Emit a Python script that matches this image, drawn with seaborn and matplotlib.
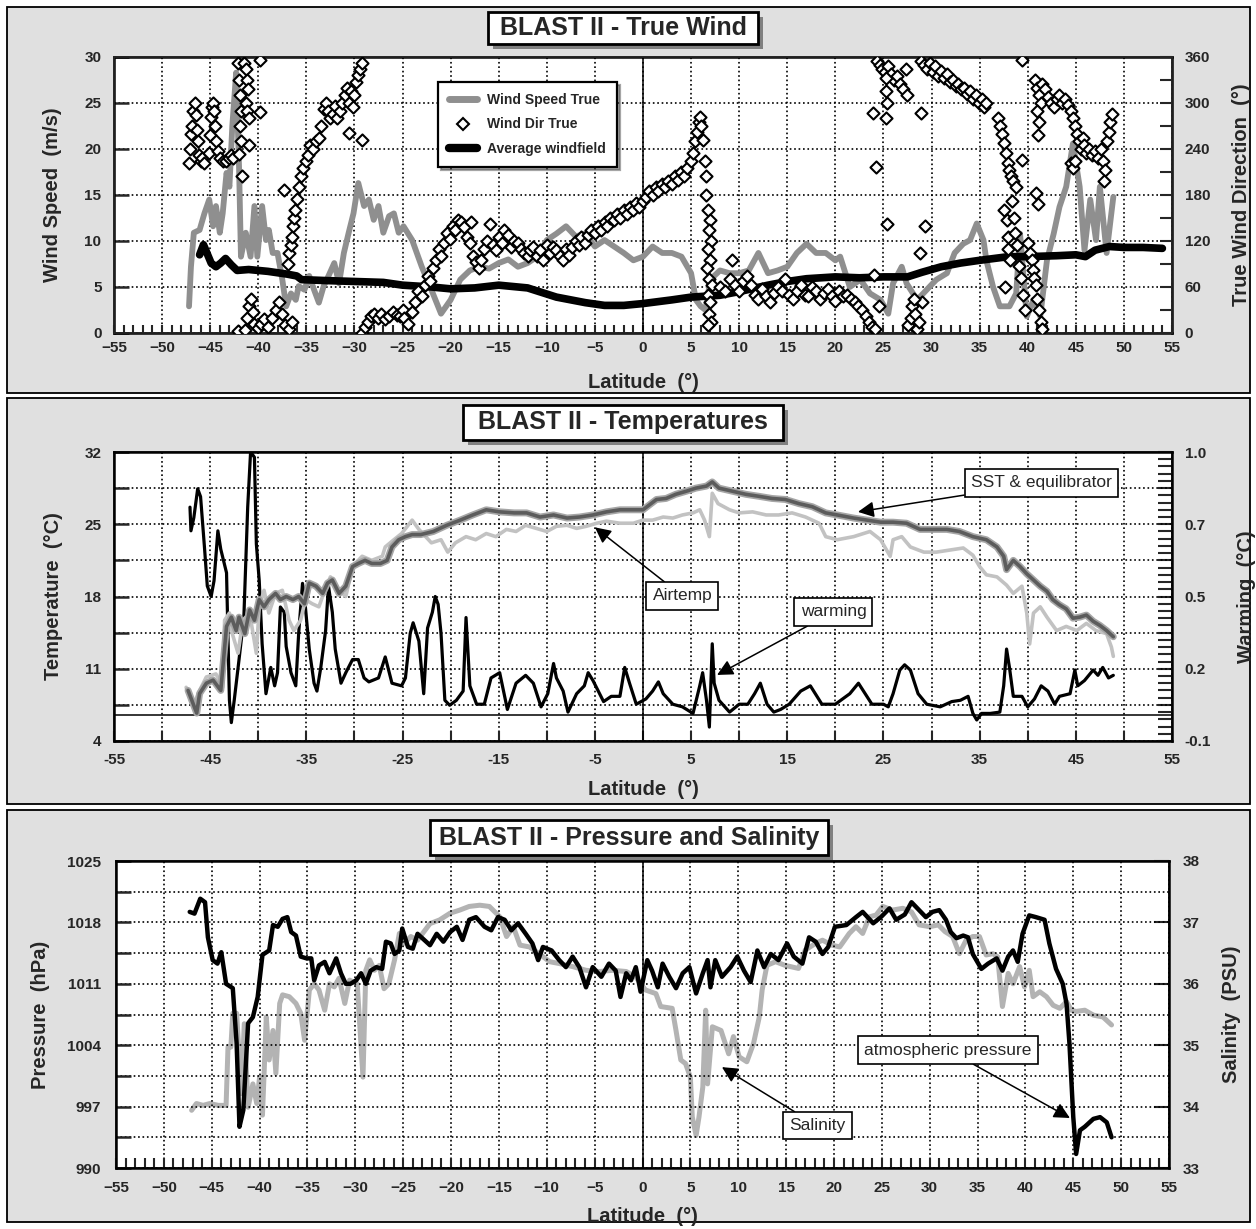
import matplotlib
matplotlib.use("Agg")
import matplotlib.pyplot as plt
from matplotlib.patches import Rectangle
from matplotlib.lines import Line2D
from matplotlib.ticker import FixedLocator
import seaborn as sns

W, H = 1256, 1229

# ---------------- panel 1 : true wind ----------------
wind_lat = [-47.2, -47.0, -46.7, -46.1, -45.6, -45.1, -44.7, -44.4, -44.0, -43.7, -43.3, -43.0, -42.7, -42.3,
            -42.0, -41.8, -41.3, -40.8, -40.4, -40.1, -39.6, -39.2, -38.9, -38.5, -38.0, -37.5, -37.1, -36.6,
            -36.1, -35.8, -35.2, -34.7, -34.2, -33.7, -33.2, -32.7, -32.1, -31.6, -31.1, -30.6, -30.1, -29.6,
            -29.0, -28.5, -28.0, -27.5, -27.0, -26.4, -25.9, -25.4, -24.9, -24.0, -23.0, -22.0, -21.0, -20.0,
            -19.0, -18.0, -17.0, -16.0, -15.0, -14.0, -13.0, -12.0, -11.0, -10.0, -9.0, -8.0, -7.0, -6.0, -5.0,
            -4.0, -3.0, -2.0, -1.0, 0.0, 1.0, 2.0, 3.0, 4.0, 5.0, 5.5, 6.0, 6.5, 7.0, 8.0, 9.0, 10.0, 11.0, 12.0,
            13.0, 14.0, 15.0, 16.0, 17.0, 18.0, 19.0, 20.0, 20.5, 21.5, 22.6, 23.6, 24.7, 25.5, 26.0, 26.9, 27.4,
            28.5, 29.5, 30.5, 31.6, 32.4, 33.3, 34.0, 34.7, 35.4, 35.7, 36.4, 37.1, 38.1, 38.8, 39.2, 39.9, 40.6,
            41.3, 42.0, 42.7, 43.3, 44.0, 44.7, 45.4, 45.9, 46.5, 47.1, 47.5, 48.2, 48.9]
wind_speed = [2.9, 7.2, 10.9, 11.2, 13.0, 14.5, 11.6, 13.8, 10.9, 13.0, 17.4, 15.9, 22.5, 28.3,
              18.1, 8.3, 10.9, 8.3, 13.8, 8.3, 13.8, 10.1, 11.2, 8.7, 8.7, 5.8, 2.9, 4.3,
              3.6, 5.1, 4.7, 6.2, 4.7, 3.3, 5.1, 6.2, 7.6, 5.4, 8.7, 10.9, 13.0, 16.3,
              13.8, 14.5, 12.3, 13.8, 10.9, 12.7, 13.0, 10.9, 11.6, 10.1, 7.2, 4.7, 2.1, 3.6,
              5.8, 6.8, 7.2, 7.0, 7.6, 8.0, 7.2, 7.6, 8.3, 10.1, 10.8, 11.6, 10.5, 10.8, 9.4,
              10.1, 9.4, 8.7, 7.9, 8.3, 9.4, 8.7, 8.7, 8.3, 6.5, 3.6, 2.9, 2.5, 5.8, 6.8, 6.5, 6.5, 6.8, 8.7,
              6.5, 6.8, 7.2, 8.7, 9.7, 8.7, 8.7, 7.9, 8.3, 5.0, 5.8, 4.3, 3.6, 2.1, 5.4, 7.2, 5.4,
              3.6, 4.7, 5.8, 6.5, 8.7, 9.7, 10.1, 11.9, 10.1, 7.9, 5.0, 2.9, 2.9, 4.3, 10.8, 1.8, 3.6,
              1.8, 7.9, 10.8, 13.7, 15.9, 20.6, 15.9, 9.0, 14.5, 10.1, 15.9, 8.7, 14.8]

dir_lat = [-47.2, -47.1, -47.0, -46.9, -46.8, -46.6, -46.5, -46.4, -46.3, -46.2, -46.0, -45.8, -45.6,
           -45.1, -45.0, -44.9, -44.8, -44.7, -44.6, -44.5, -44.4, -44.2, -44.0, -43.7, -43.4, -43.0, -42.8, -42.6,
           -42.1, -42.0, -41.9, -41.8, -41.9, -41.8, -42.0, -41.7, -41.5, -41.3, -41.2, -41.1, -41.3, -41.2,
           -41.0, -41.0, -39.8, -39.8,
           -42.1, -41.4, -41.2, -41.0, -40.8, -40.6, -40.4, -40.0, -39.7, -39.4, -39.0, -38.6, -38.2, -37.8,
           -37.5, -37.2, -36.8, -36.5,
           -37.3, -36.9, -36.8, -36.6, -36.5, -36.4, -36.3, -36.2, -36.0, -35.8, -35.6, -35.3, -35.0, -34.8,
           -34.6, -34.3, -34.0, -33.7, -33.5, -33.2, -33.0, -32.7, -32.5, -32.2, -32.0, -31.8, -31.5, -31.3,
           -31.0, -30.8, -30.6, -30.4, -30.2, -30.0, -29.8, -29.6, -29.4, -29.2, -30.6, -29.2,
           -29.2, -28.9, -28.6, -28.3, -28.0, -27.6, -27.2, -26.8, -26.4, -26.0, -25.6, -25.3, -25.0,
           -24.8, -24.4, -24.0, -23.7, -23.4, -23.0, -22.7, -22.4, -22.1, -21.8, -21.5, -21.2, -21.0, -20.7,
           -20.4, -20.1, -19.8, -19.5, -19.2, -18.9, -18.6, -18.3, -18.0, -17.9, -17.7, -17.4, -17.1, -16.8,
           -16.5, -16.2, -15.9, -15.6, -15.3, -15.0, -14.7, -14.4, -14.0, -13.7, -13.4, -13.0, -12.7, -12.4,
           -12.0, -11.7, -11.4, -11.0, -10.7, -10.4, -10.0, -9.7, -9.4, -9.0, -8.6, -8.3, -8.0, -7.7, -7.4,
           -7.0, -6.7, -6.4, -6.0, -5.7, -5.4, -5.0, -4.7, -4.4, -4.0, -3.7, -3.4, -3.0, -2.7, -2.4, -2.0,
           -1.7, -1.4, -1.0, -0.7, -0.4, 0.0, 0.3, 0.6, 1.0, 1.3, 1.6, 2.0, 2.3, 2.6, 3.0, 3.3, 3.6, 4.0,
           4.3, 4.6, 5.0, 5.2, 5.4, 5.6, 5.8, 5.9, 6.0, 6.2, 6.4, 6.6, 6.5, 6.8, 7.0, 6.9, 7.1, 6.8, 7.0,
           6.7, 6.9, 7.2, 6.8, 7.0, 6.9, 7.1, 6.8,
           8.0, 8.5, 9.0, 9.3, 9.6, 10.0, 10.4, 10.8, 11.2, 11.6, 12.0, 12.4, 12.8, 13.2, 13.6, 14.0, 14.4,
           14.8, 15.2, 15.6, 16.0, 16.4, 16.8, 17.2, 17.6, 18.0, 18.4, 18.8, 19.2, 19.6, 20.0, 20.4, 20.8,
           21.2, 21.6, 22.0, 22.4, 22.8, 23.2, 23.5, 23.8, 24.1, 24.0, 24.5,
           24.3, 24.6, 24.9, 25.2, 25.5, 25.8, 26.1, 26.4, 26.7, 27.0, 27.3, 27.4, 25.3, 25.3, 25.4, 25.3,
           25.4, 23.9, 24.2,
           27.6, 27.9, 28.0, 28.3, 28.5, 28.7, 29.0, 28.2, 28.8, 29.3, 28.9,
           28.9, 29.2, 29.5, 29.8, 30.1, 30.4, 30.7, 31.0, 31.3, 31.6, 31.9, 32.2, 32.5, 32.8, 33.1, 33.4,
           33.7, 34.0, 34.3, 34.6, 34.9, 35.2, 35.5, 35.7,
           36.9, 37.1, 37.3, 37.5, 37.7, 37.9, 38.1, 38.3, 38.5, 38.8, 39.4,
           37.5, 37.8, 37.9, 38.0, 38.2, 38.4, 38.6, 38.7, 38.9, 39.1, 39.3, 39.5, 39.7, 37.6, 39.4,
           40.0, 40.2, 40.4, 40.5, 40.7, 40.9, 41.0, 41.2, 41.4, 41.5, 40.9, 41.1,
           40.8, 41.0, 41.2, 41.4, 41.0, 41.1, 41.2, 41.5, 41.8, 42.1, 42.4, 42.7, 43.0, 43.3, 43.6, 43.9,
           44.2, 44.5, 44.7, 44.9, 45.1, 45.3, 45.5, 45.7, 45.9, 46.1, 46.4, 46.7, 47.0, 47.3, 47.6, 47.8,
           48.0, 47.9, 48.2, 48.4, 48.6, 48.8, 44.5, 44.7, 44.9]
dir_deg = [222, 240, 260, 270, 290, 300, 284, 265, 250, 232, 225, 228, 222,
           235, 258, 282, 295, 300, 290, 270, 250, 238, 228, 224, 224, 228, 232, 228,
           352, 330, 310, 290, 270, 250, 233, 205, 352, 345, 330, 318, 300, 290,
           280, 245, 356, 288,
           2, 4, 20, 35, 45, 28, 12, 6, 12, 18, 8, 20, 30, 40,
           25, 10, 5, 15,
           186, 90, 105, 115, 125, 140, 150, 160, 175, 190, 205, 215, 225, 232,
           245, 240, 250, 255, 270, 292, 300, 290, 280, 285, 296, 280, 290, 300,
           310, 320, 300, 315, 295, 310, 328, 336, 345, 352, 261, 252,
           0, 8, 15, 22, 25, 20, 25, 18, 22, 28, 24, 22, 30,
           20, 12, 28, 40, 55, 48, 62, 75, 68, 85, 95, 110, 100, 118,
           130, 122, 140, 135, 148, 145, 138, 125, 118, 145, 100, 92, 85, 95,
           110, 120, 142, 115, 108, 125, 118, 135, 128, 112, 120, 118, 110, 105,
           100, 108, 112, 100, 108, 95, 115, 105, 112, 108, 100, 95, 110, 102, 112,
           120, 115, 125, 118, 128, 135, 130, 140, 134, 145, 140, 150, 148, 155, 150, 160,
           155, 165, 160, 170, 165, 172, 178, 185, 180, 190, 185, 195, 190, 198, 195, 205, 200, 210,
           205, 215, 225, 235, 250, 262, 275, 282, 270, 252, 225, 205, 180, 160, 148, 135, 120, 110, 95,
           85, 70, 62, 50, 40, 25, 15, 10,
           60, 55, 70, 95, 62, 55, 68, 75, 62, 50, 45, 58, 48, 40, 52, 60, 55,
           70, 50, 45, 55, 62, 50, 48, 60, 55, 45, 52, 58, 48, 42, 55, 48,
           50, 45, 40, 35, 30, 22, 15, 8, 5, 76, 35,
           355, 350, 345, 340, 348, 338, 330, 335, 325, 318, 345, 310, 332, 315, 300, 280,
           142, 287, 217,
           10, 20, 35, 25, 5, 15, 40, 45, 105, 140, 287,
           355, 350, 345, 352, 340, 348, 335, 342, 332, 338, 328, 330, 322, 325, 318, 320,
           312, 315, 305, 310, 300, 305, 295, 300,
           280, 270, 260, 248, 235, 222, 212, 205, 198, 190, 226,
           160, 148, 125, 110, 95, 172, 150, 130, 115, 88, 72, 50, 30, 60, 356,
           118, 105, 95, 82, 72, 62, 45, 30, 15, 5, 182, 168,
           330, 320, 310, 300, 290, 258, 275, 325, 318, 308, 300, 295, 305, 310, 300, 305,
           298, 290, 280, 270, 260, 250, 240, 255, 245, 235, 240, 232, 238, 228, 240, 225,
           212, 198, 250, 262, 275, 285, 222, 215, 225]

avg_lat = [-46.1, -45.7, -45.3, -44.9, -44.4, -43.9, -43.4, -42.8, -42.2, -41.0, -39.0, -37.0, -36.0,
           -35.5, -33.0, -30.0, -27.0, -25.0, -22.0, -20.0, -17.5, -15.0, -12.0, -9.0, -6.0, -4.0, -2.0,
           0.0, 3.0, 5.0, 8.0, 10.0, 13.0, 15.0, 17.0, 20.0, 22.5, 25.0, 27.5, 29.0, 31.0, 33.0, 35.0,
           38.0, 40.0, 43.0, 45.0, 46.0, 47.0, 48.5, 50.0, 52.0, 54.0]
avg_speed = [8.5, 9.6, 8.6, 7.6, 7.2, 7.6, 8.1, 7.4, 6.8, 6.9, 6.7, 6.4, 6.2,
             5.8, 5.7, 5.6, 5.5, 5.2, 5.0, 4.8, 4.9, 5.2, 4.9, 3.9, 3.3, 3.0, 3.0,
             3.2, 3.6, 3.9, 4.1, 4.5, 5.2, 5.6, 5.9, 6.1, 6.0, 6.1, 6.1, 6.6, 7.2, 7.6, 7.9,
             8.3, 8.3, 8.4, 8.5, 8.3, 9.0, 9.4, 9.3, 9.3, 9.2]

# ---------------- panel 2 : temperatures ----------------
warm_lat = [-47.1, -47.0, -46.7, -46.3, -46.0, -45.6, -45.3, -44.9, -44.6, -44.2, -43.9, -43.3, -43.0, -42.8,
            -42.5, -42.0, -41.5, -41.1, -40.8, -40.4, -40.2, -39.9, -39.6, -39.2, -38.7, -38.3, -38.0, -37.7,
            -37.3, -37.1, -36.6, -36.1, -35.8, -35.4, -35.1, -34.7, -34.2, -33.9, -33.5, -33.0, -32.7, -32.3,
            -32.0, -31.4, -30.9, -30.2, -29.6, -29.0, -28.5, -27.5, -26.8, -26.1, -25.1, -24.7, -24.2, -23.9,
            -23.3, -22.8, -22.4, -21.9, -21.6, -21.3, -21.0, -20.6, -20.1, -19.4, -18.7, -18.4, -18.0, -17.3,
            -16.5, -15.8, -14.9, -14.1, -13.2, -12.2, -11.4, -10.6, -9.9, -9.3, -9.0, -8.3, -7.8, -6.9, -6.1,
            -5.7, -5.2, -4.1, -3.3, -2.4, -1.9, -1.4, -0.7, 0.3, 1.0, 1.6, 2.1, 3.1, 4.1, 5.2, 5.9, 6.2, 6.6,
            6.9, 7.2, 7.4, 7.9, 9.0, 10.0, 10.9, 11.6, 12.2, 12.9, 13.6, 14.3, 15.2, 16.4, 17.4, 18.6, 20.0,
            21.5, 22.4, 23.1, 23.8, 25.0, 25.5, 26.0, 26.7, 27.2, 27.8, 28.6, 29.5, 30.9, 32.1, 33.0, 33.8,
            34.3, 34.7, 35.2, 36.1, 37.1, 37.5, 37.8, 38.1, 38.5, 39.4, 40.0, 40.7, 41.4, 42.1, 42.8, 43.3,
            44.4, 44.9, 45.2, 45.9, 46.8, 47.3, 47.8, 48.4, 48.9]
warm_val = [0.79, 0.70, 0.75, 0.86, 0.83, 0.64, 0.49, 0.45, 0.51, 0.70, 0.63, 0.54, 0.055, -0.03,
            0.055, 0.21, 0.37, 0.79, 1.0, 0.98, 0.65, 0.51, 0.27, 0.08, 0.18, 0.11, 0.16, 0.41,
            0.39, 0.26, 0.16, 0.11, 0.31, 0.50, 0.41, 0.25, 0.12, 0.09, 0.18, 0.32, 0.49, 0.39,
            0.25, 0.12, 0.16, 0.21, 0.21, 0.14, 0.125, 0.14, 0.22, 0.12, 0.11, 0.14, 0.31, 0.35,
            0.28, 0.08, 0.33, 0.39, 0.45, 0.42, 0.31, 0.055, 0.036, 0.055, 0.09, 0.37, 0.11, 0.04,
            0.04, 0.14, 0.16, 0.02, 0.12, 0.15, 0.12, 0.03, 0.08, 0.195, 0.14, 0.09, 0.01, 0.08, 0.11,
            0.16, 0.13, 0.05, 0.07, 0.07, 0.18, 0.12, 0.04, 0.06, 0.09, 0.125, 0.08, 0.04, 0.03, 0.005, 0.11, 0.16, 0.055,
            -0.047, 0.27, 0.12, 0.055, 0.01, 0.04, 0.04, 0.08, 0.12, 0.04, 0.01, 0.02, 0.04, 0.09, 0.11, 0.04, 0.04,
            0.08, 0.12, 0.08, 0.04, 0.04, 0.03, 0.08, 0.17, 0.19, 0.17, 0.08, 0.04, 0.03, 0.05, 0.055, 0.07,
            0.005, -0.02, 0.005, 0.005, 0.01, 0.11, 0.25, 0.18, 0.07, 0.07, 0.03, 0.06, 0.11, 0.09, 0.04, 0.07,
            0.08, 0.17, 0.11, 0.13, 0.17, 0.15, 0.18, 0.14, 0.15]

sst_lat = [-47.3, -46.4, -46.1, -45.4, -44.7, -43.9, -43.3, -42.8, -42.3, -42.0, -41.4, -40.9, -40.4, -39.9,
           -39.4, -38.9, -38.2, -37.7, -37.1, -36.4, -35.8, -35.2, -34.7, -34.0, -33.3, -32.8, -32.3, -31.6,
           -30.9, -30.2, -29.6, -28.9, -28.2, -27.3, -26.6, -26.1, -25.4, -24.7, -24.0, -23.1, -21.8, -20.4,
           -19.0, -17.7, -16.3, -14.9, -13.4, -12.1, -10.7, -9.3, -7.9, -6.6, -5.2, -3.8, -2.4, -1.0, 0.0,
           0.7, 1.4, 2.4, 3.4, 4.5, 5.5, 6.6, 7.2, 7.9, 9.3, 10.7, 12.1, 13.4, 14.8, 16.2, 17.6, 19.0, 20.2,
           21.9, 23.3, 24.7, 26.0, 27.4, 28.8, 30.2, 31.6, 32.9, 34.3, 35.7, 36.8, 37.5, 37.8, 38.5, 39.2,
           39.9, 40.6, 41.3, 42.0, 42.6, 43.3, 44.0, 44.7, 45.4, 46.1, 46.8, 47.5, 48.2, 48.9]
sst_temp = [8.9, 6.7, 8.6, 9.6, 9.9, 8.9, 15.1, 16.0, 14.7, 16.0, 14.4, 16.7, 15.7, 17.7,
            17.0, 17.7, 18.3, 17.7, 18.0, 17.7, 18.0, 17.3, 19.3, 19.0, 18.3, 19.3, 19.6, 18.3,
            19.0, 20.9, 21.2, 21.5, 21.2, 21.2, 21.5, 22.8, 23.5, 23.8, 24.0, 24.0, 24.3, 24.9,
            25.4, 25.9, 26.4, 26.2, 26.1, 26.1, 25.7, 25.9, 25.6, 25.7, 25.9, 26.2, 26.4, 26.4, 26.4,
            26.9, 27.4, 27.5, 27.9, 28.2, 28.5, 28.7, 29.1, 28.5, 28.2, 27.9, 27.7, 27.5, 27.4, 27.0, 26.7, 26.1, 25.9,
            25.6, 25.4, 25.2, 25.2, 25.1, 24.5, 24.5, 24.5, 24.3, 23.8, 23.5, 22.8, 21.9, 20.6, 21.5, 20.9,
            20.2, 19.6, 19.0, 18.5, 17.7, 17.2, 16.8, 15.9, 16.0, 16.2, 15.6, 15.2, 14.7, 14.1]

air_lat = [-47.5, -46.8, -46.1, -45.4, -44.4, -43.7, -43.5, -43.0, -42.7, -42.1, -41.6, -40.9, -40.2, -39.9,
           -39.4, -38.9, -38.2, -37.5, -36.8, -36.3, -35.6, -35.1, -34.4, -33.7, -33.2, -32.5, -31.6, -30.9,
           -30.2, -29.2, -28.2, -27.1, -26.8, -25.9, -25.1, -24.0, -23.3, -22.0, -21.0, -20.3, -19.5, -18.4,
           -17.4, -16.3, -15.3, -14.2, -13.2, -12.2, -11.1, -10.0, -9.0, -7.9, -6.9, -5.9, -4.8, -3.8, -2.4,
           -1.0, 0.0, 1.0, 2.1, 3.1, 4.1, 5.2, 5.9, 6.4, 6.9, 7.2, 7.8, 9.0, 10.0, 11.4, 12.8, 14.1, 15.5,
           16.9, 18.3, 19.0, 20.2, 21.9, 23.6, 24.7, 25.7, 26.0, 26.9, 27.8, 29.2, 30.5, 31.9, 33.3, 34.3,
           35.0, 35.7, 36.8, 37.8, 38.5, 39.4, 39.9, 40.2, 40.6, 41.3, 42.0, 43.0, 44.0, 45.1, 46.1, 47.1,
           48.2, 48.7, 48.9]
air_temp = [9.2, 7.3, 8.9, 10.2, 10.5, 9.2, 15.7, 16.4, 14.4, 12.5, 15.7, 16.4, 12.5, 17.0,
            18.6, 16.4, 18.3, 18.6, 15.7, 14.7, 15.7, 17.7, 17.3, 17.0, 18.3, 19.9, 18.6, 18.0,
            20.9, 21.9, 21.5, 21.9, 22.8, 23.5, 24.1, 25.4, 24.5, 23.2, 23.5, 22.3, 23.2, 23.8,
            23.5, 24.1, 23.8, 24.5, 24.3, 24.9, 24.6, 24.3, 24.8, 24.9, 24.6, 24.8, 25.1, 25.3, 25.1,
            25.1, 25.4, 25.4, 25.7, 25.6, 25.9, 26.1, 26.4, 25.4, 23.8, 28.0, 27.0, 26.4, 26.1, 26.2, 25.9, 25.9, 26.1,
            25.7, 25.1, 23.8, 23.5, 23.8, 24.3, 23.5, 21.9, 23.5, 23.8, 22.8, 22.3, 22.3, 22.5, 22.7, 22.0,
            20.9, 20.1, 19.9, 19.1, 18.3, 19.0, 16.4, 13.4, 16.4, 17.0, 16.0, 14.7, 15.1, 14.7, 15.4, 14.7,
            14.4, 13.1, 12.2]

# ---------------- panel 3 : pressure and salinity ----------------
pres_lat = [-47.3, -46.8, -46.2, -45.7, -45.4, -44.9, -44.4, -44.0, -43.5, -42.8, -42.4, -42.1, -41.7, -41.2,
            -40.7, -40.2, -39.7, -39.0, -38.6, -38.1, -37.6, -37.1, -36.7, -36.2, -35.7, -35.1, -34.6, -34.3,
            -33.8, -33.2, -32.7, -32.0, -31.5, -31.0, -30.5, -29.9, -29.4, -28.9, -28.4, -27.8, -27.2, -26.8,
            -26.3, -25.9, -25.4, -25.1, -24.5, -24.0, -23.5, -22.2, -21.5, -20.8, -20.1, -19.4, -18.8, -18.1,
            -17.4, -16.5, -15.8, -15.1, -14.4, -13.7, -13.0, -12.2, -11.5, -10.9, -10.4, -9.5, -8.7, -8.0,
            -7.3, -6.6, -5.9, -5.2, -4.3, -3.5, -2.8, -2.3, -1.7, -1.2, -0.7, -0.2, 0.5, 1.0, 1.6, 2.1, 2.8,
            3.5, 4.2, 4.9, 5.6, 6.3, 6.8, 7.1, 7.6, 8.3, 9.2, 9.9, 10.6, 11.3, 12.0, 12.7, 13.4, 14.2, 15.1,
            15.8, 16.7, 17.4, 18.1, 18.8, 19.4, 20.1, 21.3, 22.3, 23.0, 24.1, 24.9, 25.8, 26.5, 27.4, 28.1,
            28.9, 29.6, 30.3, 31.0, 31.7, 32.2, 32.8, 33.5, 34.0, 34.5, 35.4, 36.1, 37.0, 37.6, 38.2, 38.7,
            39.2, 39.7, 40.4, 41.1, 42.0, 42.5, 43.2, 43.9, 44.3, 44.6, 45.0, 45.3, 45.7, 46.2, 47.1, 47.8,
            48.5, 49.0]
pres_hpa = [1019.2, 1019.0, 1020.7, 1020.3, 1016.3, 1013.7, 1013.3, 1014.6, 1011.0, 1010.5, 1004.2, 994.7, 996.6, 1006.5,
            1007.2, 1009.5, 1014.3, 1014.8, 1017.7, 1017.5, 1018.4, 1018.6, 1016.9, 1016.5, 1014.1, 1013.9, 1013.9, 1011.4,
            1013.1, 1013.5, 1012.2, 1013.9, 1012.2, 1011.0, 1011.0, 1011.4, 1012.2, 1011.0, 1012.5, 1012.9, 1012.7, 1015.8,
            1015.6, 1014.4, 1014.8, 1017.3, 1015.2, 1015.0, 1016.7, 1015.4, 1016.7, 1015.8, 1016.9, 1017.5, 1016.0, 1018.3,
            1018.6, 1017.5, 1017.1, 1018.6, 1018.3, 1017.1, 1017.9, 1016.7, 1015.6, 1013.7, 1015.2, 1014.8, 1013.7, 1012.9,
            1014.1, 1012.9, 1010.6, 1012.9, 1011.8, 1013.3, 1012.5, 1009.5, 1012.2, 1011.4, 1012.9, 1010.1, 1013.7, 1012.5, 1010.6, 1013.3, 1011.8,
            1010.5, 1012.2, 1012.9, 1009.9, 1012.2, 1013.7, 1010.6, 1013.7, 1011.8, 1012.9, 1014.1, 1012.5, 1011.2, 1014.8, 1012.9, 1014.4, 1013.7, 1015.6,
            1014.1, 1013.3, 1016.3, 1015.8, 1014.4, 1015.2, 1017.5, 1017.7, 1018.6, 1019.2, 1017.9, 1018.6, 1019.6, 1018.3, 1018.9, 1020.3,
            1019.4, 1018.6, 1019.2, 1019.4, 1018.3, 1016.9, 1016.2, 1016.5, 1016.3, 1014.4, 1012.7, 1013.3, 1013.9, 1012.5, 1014.1, 1014.8,
            1013.5, 1016.7, 1018.8, 1018.6, 1018.3, 1015.6, 1012.7, 1011.0, 1008.7, 1004.2, 995.8, 991.6, 994.3, 994.7, 995.6, 995.8,
            995.2, 993.5]

sal_lat = [-47.1, -46.6, -45.9, -45.2, -44.3, -43.5, -43.3, -43.0, -42.8, -42.4, -41.9, -41.6, -41.2, -40.7,
           -40.3, -40.0, -39.7, -39.3, -39.0, -38.6, -38.3, -37.9, -37.6, -36.9, -36.2, -35.7, -35.3, -34.8,
           -34.3, -33.8, -33.2, -32.7, -32.2, -31.7, -31.1, -30.6, -29.8, -29.2, -28.9, -28.5, -28.0, -27.5,
           -27.0, -26.5, -25.9, -25.4, -24.9, -24.2, -23.5, -22.2, -21.2, -20.1, -19.1, -18.1, -17.0, -16.0,
           -14.9, -14.2, -13.5, -12.8, -11.8, -10.8, -9.7, -8.7, -7.3, -5.9, -4.5, -3.1, -1.7, -0.7, 0.3,
           1.4, 1.9, 3.1, 3.5, 4.0, 4.5, 5.0, 5.2, 5.6, 5.9, 6.3, 6.6, 6.8, 7.3, 8.2, 9.0, 9.5, 10.1, 10.9,
           11.6, 12.2, 12.5, 13.0, 13.9, 14.9, 16.3, 17.0, 18.1, 18.8, 19.8, 20.6, 21.6, 22.3, 23.0, 23.7,
           24.4, 25.1, 26.1, 27.2, 28.1, 28.9, 30.0, 30.9, 31.6, 32.4, 33.1, 33.8, 34.5, 35.2, 35.9, 36.6,
           37.1, 37.6, 38.2, 38.7, 39.4, 39.9, 40.4, 40.8, 41.5, 42.2, 42.9, 43.6, 44.3, 44.8, 45.3, 46.2,
           47.1, 48.1, 49.0]
sal_psu = [33.94, 34.05, 34.02, 34.05, 34.02, 34.02, 34.97, 34.97, 35.52, 35.52, 34.21, 35.35, 33.99, 34.37,
           34.05, 34.48, 33.86, 35.46, 34.76, 35.24, 34.54, 35.68, 35.82, 35.79, 35.68, 35.52, 35.08, 35.90,
           36.0, 35.9, 35.57, 36.0, 35.95, 36.09, 35.68, 36.06, 36.0, 34.48, 36.22, 36.39, 36.22, 36.3,
           35.92, 36.0, 36.39, 36.82, 36.66, 36.77, 36.71, 36.98, 37.04, 37.15, 37.2, 37.26, 37.28, 37.26,
           37.09, 36.77, 36.93, 36.63, 36.6, 36.49, 36.36, 36.33, 36.28, 36.22, 36.2, 36.22, 36.2, 36.11, 35.9,
           35.84, 35.63, 35.6, 35.24, 34.76, 34.7, 34.48, 33.83, 33.53, 33.83, 34.32, 35.57, 34.37, 35.3, 35.24, 34.86, 35.14, 34.81, 34.73,
           35.03, 35.46, 35.9, 36.3, 36.36, 36.3, 36.25, 36.55, 36.66, 36.71, 36.63, 36.6, 36.82, 36.93, 36.82, 37.09,
           37.12, 37.26, 37.2, 37.23, 37.17, 36.96, 36.93, 36.96, 36.85, 36.77, 36.49, 36.71, 36.77, 36.77, 36.47, 36.49,
           36.44, 35.63, 36.17, 36.0, 36.28, 35.95, 36.22, 35.79, 35.87, 35.79, 35.65, 35.6, 35.71, 35.57, 35.55, 35.57,
           35.49, 35.46, 35.33]

sns.set_theme(style="white")
plt.rcParams["font.family"] = ["Liberation Sans", "DejaVu Sans"]

TICK_FS = 11
LABEL_FS = 14.5

fig = plt.figure(figsize=(W / 100, H / 100), dpi=100)
fig.patch.set_facecolor("white")


def fbox(x0, y0, x1, y1):
    # pixel box (origin top-left) -> figure fraction rect
    return [x0 / W, 1 - y1 / H, (x1 - x0) / W, (y1 - y0) / H]


def panel_bg(y0, y1):
    l, b, w, h = fbox(7, y0, 1250, y1)
    fig.add_artist(Rectangle((l, b), w, h, transform=fig.transFigure, fc="#e0e0e0",
                             ec="black", lw=1.3, zorder=-5))


def title_box(text, x0, y0, x1, y1):
    l, b, w, h = fbox(x0 + 5, y0 + 5, x1 + 5, y1 + 5)
    fig.add_artist(Rectangle((l, b), w, h, transform=fig.transFigure, fc="#808080", ec="none", zorder=5))
    l, b, w, h = fbox(x0, y0, x1, y1)
    fig.add_artist(Rectangle((l, b), w, h, transform=fig.transFigure, fc="white", ec="black", lw=2, zorder=6))
    fig.text(l + w / 2, b + h / 2, text, ha="center", va="center", fontsize=18,
             fontweight="bold", zorder=7)


def style_axes(ax):
    ax.set_facecolor("white")
    for s in ax.spines.values():
        s.set_color("black")
        s.set_linewidth(1.8)
        s.set_visible(True)
    ax.set_xlim(-55, 55)
    ax.axvline(0, color="black", lw=1.1, zorder=1)


def bold_ticks(ax, size=TICK_FS):
    for lab in ax.get_xticklabels() + ax.get_yticklabels():
        lab.set_fontweight("bold")
        lab.set_fontsize(size)


def labels(ax, axr, ylab, rlab, xl_y, yl_x, rl_x):
    ax.set_xlabel("Latitude  (°)", fontsize=LABEL_FS, fontweight="bold")
    ax.xaxis.set_label_coords(0.5, xl_y)
    ax.set_ylabel(ylab, fontsize=LABEL_FS, fontweight="bold")
    ax.yaxis.set_label_coords(yl_x, 0.5)
    axr.set_ylabel(rlab, fontsize=LABEL_FS, fontweight="bold", rotation=90)
    axr.yaxis.set_label_coords(rl_x, 0.5)


grid_kw = dict(color="black", linestyle=":", linewidth=1.2)

panel_bg(7, 393)
panel_bg(398, 804)
panel_bg(810, 1222)

# ---------- panel 1 ----------
ax1 = fig.add_axes(fbox(114, 57, 1172, 333))
style_axes(ax1)
ax1r = ax1.twinx()
sns.lineplot(x=wind_lat, y=wind_speed, ax=ax1, color="#8f8f8f", lw=4.2, sort=False,
             estimator=None, legend=False, zorder=3)
sns.lineplot(x=avg_lat, y=avg_speed, ax=ax1, color="black", lw=5.5, sort=False,
             estimator=None, legend=False, zorder=4)
sns.scatterplot(x=dir_lat, y=dir_deg, ax=ax1r, marker="D", s=38, color="white",
                edgecolor="black", linewidth=1.5, legend=False, zorder=5)
ax1.set_ylim(0, 30)
ax1r.set_ylim(0, 360)
ax1.set_xticks(range(-55, 56, 5))
ax1.xaxis.set_minor_locator(FixedLocator(range(-55, 56)))
ax1.set_yticks(range(0, 31, 5))
ax1r.set_yticks(range(0, 361, 60))
ax1r.yaxis.set_minor_locator(FixedLocator(range(0, 361, 30)))
ax1.grid(True, which="major", **grid_kw)
ax1.tick_params(axis="x", which="both", direction="in", length=6, width=1.5, pad=6, bottom=True)
ax1.tick_params(axis="y", which="major", direction="in", length=11, width=1.8, pad=9, left=True)
ax1r.tick_params(axis="y", which="both", direction="in", length=9, width=1.5, pad=9, right=True)
labels(ax1, ax1r, "Wind Speed  (m/s)", "True Wind Direction  (°)", -0.145, -0.049, 1.057)
bold_ticks(ax1)
bold_ticks(ax1r)
handles = [Line2D([], [], color="#8f8f8f", lw=5),
           Line2D([], [], color="black", marker="D", markerfacecolor="white", markersize=6.5,
                  markeredgewidth=1.5, lw=0),
           Line2D([], [], color="black", lw=6)]
leg = ax1r.legend(handles, ["Wind Speed True", "Wind Dir True", "Average windfield"],
                  loc="upper left", bbox_to_anchor=(0.3, 0.935), frameon=True, fancybox=False,
                  shadow=True, edgecolor="black", framealpha=1, prop={"weight": "bold", "size": 10},
                  handlelength=2.0, handletextpad=0.7, borderpad=0.8, labelspacing=0.75)
leg.get_frame().set_linewidth(1.6)
leg.set_zorder(20)
title_box("BLAST II - True Wind", 488, 12, 758, 44)

# ---------- panel 2 ----------
ax2 = fig.add_axes(fbox(114, 452, 1172, 741))
style_axes(ax2)
ax2r = ax2.twinx()
sns.lineplot(x=air_lat, y=air_temp, ax=ax2, color="#c2c2c2", lw=2.6, sort=False,
             estimator=None, legend=False, zorder=3)
sns.lineplot(x=sst_lat, y=sst_temp, ax=ax2, color="#a6a6a6", lw=5, sort=False,
             estimator=None, legend=False, zorder=3)
sns.lineplot(x=sst_lat, y=sst_temp, ax=ax2, color="#5c5c5c", lw=2.6, sort=False,
             estimator=None, legend=False, zorder=4)
sns.lineplot(x=warm_lat, y=warm_val, ax=ax2r, color="black", lw=2.3, sort=False,
             estimator=None, legend=False, zorder=5)
ax2r.axhline(0, color="black", lw=1.1)
ax2.set_ylim(4, 32)
ax2r.set_ylim(-0.1, 1.0)
ax2.set_xticks(range(-55, 56, 5))
ax2.set_xticklabels([str(v) if (v + 55) % 10 == 0 else "" for v in range(-55, 56, 5)])
ytk = [4 + 3.5 * k for k in range(9)]
ax2.set_yticks(ytk)
ax2.set_yticklabels([f"{v:g}" if k % 2 == 0 else "" for k, v in enumerate(ytk)])
rtk = [-0.1 + 1.1 * k / 4 for k in range(5)]
ax2r.set_yticks(rtk)
ax2r.set_yticklabels([f"{v:.1f}" for v in rtk])
ax2r.yaxis.set_minor_locator(FixedLocator([-0.1 + 0.0275 * k for k in range(41)]))
ax2.grid(True, which="major", **grid_kw)
ax2.tick_params(axis="x", which="both", direction="in", length=7, width=1.5, pad=9, bottom=True)
ax2.tick_params(axis="y", which="major", direction="in", length=11, width=1.8, pad=9, left=True)
ax2r.tick_params(axis="y", which="both", direction="in", length=10, width=1.5, pad=9, right=True)
labels(ax2, ax2r, "Temperature  (°C)", "Warming  (°C)", -0.135, -0.048, 1.061)
bold_ticks(ax2)
bold_ticks(ax2r)

box_kw = dict(boxstyle="square,pad=0.35", fc="white", ec="black", lw=1.2)
arrow_kw = dict(arrowstyle="-|>", color="black", lw=1.1, mutation_scale=24, shrinkA=0, shrinkB=0)
ax2.annotate("SST & equilibrator", xy=(22.35, 26.2), xytext=(41.4, 29.0), fontsize=12.5,
             ha="center", va="center", bbox=box_kw, arrowprops=arrow_kw, zorder=10)
ax2.annotate("Airtemp", xy=(-5.0, 24.7), xytext=(4.1, 18.05), fontsize=12.5,
             ha="center", va="center", bbox=box_kw, arrowprops=arrow_kw, zorder=10)
ax2.annotate("warming", xy=(7.7, 10.4), xytext=(19.8, 16.5), fontsize=12.5,
             ha="center", va="center", bbox=box_kw, arrowprops=arrow_kw, zorder=10)
ax2.set_zorder(ax2r.get_zorder() + 1)
ax2.patch.set_visible(False)
ax2r.patch.set_facecolor("white")
ax2r.patch.set_visible(True)
title_box("BLAST II - Temperatures", 463, 405, 783, 440)

# ---------- panel 3 ----------
ax3 = fig.add_axes(fbox(116, 861, 1169, 1168))
style_axes(ax3)
ax3r = ax3.twinx()
sns.lineplot(x=sal_lat, y=sal_psu, ax=ax3r, color="#b3b3b3", lw=3.6, sort=False,
             estimator=None, legend=False, zorder=3)
sns.lineplot(x=pres_lat, y=pres_hpa, ax=ax3, color="black", lw=3.2, sort=False,
             estimator=None, legend=False, zorder=4)
ax3.set_ylim(990, 1025)
ax3r.set_ylim(33, 38)
ax3.set_xticks(range(-55, 56, 5))
ax3.xaxis.set_minor_locator(FixedLocator(range(-55, 56)))
ptk = [990 + 3.5 * k for k in range(11)]
ax3.set_yticks(ptk)
ax3.set_yticklabels([f"{v:g}" if k % 2 == 0 else "" for k, v in enumerate(ptk)])
ax3r.set_yticks(range(33, 39))
ax3.grid(True, which="major", **grid_kw)
ax3.tick_params(axis="x", which="both", direction="in", length=7, width=1.5, pad=9, bottom=True)
ax3.tick_params(axis="y", which="major", direction="in", length=11, width=1.8, pad=11, left=True)
ax3r.tick_params(axis="y", which="both", direction="in", length=11, width=1.5, pad=10, right=True)
labels(ax3, ax3r, "Pressure  (hPa)", "Salinity  (PSU)", -0.127, -0.063, 1.050)
bold_ticks(ax3)
bold_ticks(ax3r)
ax3.set_zorder(ax3r.get_zorder() + 1)
ax3.patch.set_visible(False)
ax3r.patch.set_facecolor("white")
ax3r.patch.set_visible(True)
ax3.annotate("Salinity", xy=(8.3, 1001.5), xytext=(18.3, 994.8),
             fontsize=12.5, ha="center", va="center", bbox=box_kw, arrowprops=arrow_kw, zorder=10)
ax3.annotate("atmospheric pressure", xy=(44.65, 995.7), xytext=(31.9, 1003.45),
             fontsize=12.5, ha="center", va="center", bbox=box_kw, arrowprops=arrow_kw, zorder=10)
title_box("BLAST II - Pressure and Salinity", 430, 820, 828, 855)

fig.savefig("out.png", dpi=100)
